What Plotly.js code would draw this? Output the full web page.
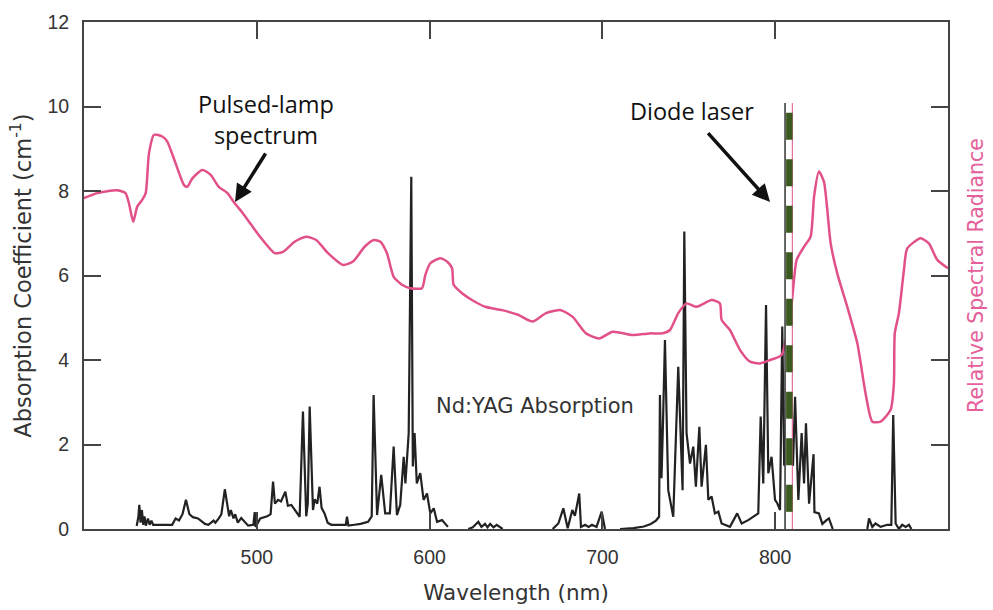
<!DOCTYPE html>
<html>
<head>
<meta charset="utf-8">
<script src="https://cdn.plot.ly/plotly-3.0.1.min.js"></script>
<style>html,body{margin:0;padding:0;background:#fff;}#chart{width:993px;height:610px;}</style>
</head>
<body>
<div id="chart"></div>
<script>
// Pulsed-lamp spectrum (relative spectral radiance, plotted on the 0-12 scale)
const lampWavelength = [400,407.7,419,424,426,428.5,430.8,433.7,435.7,437.6,440.5,445.3,448.2,452,457.9,459.8,462.7,468.5,473.3,478,483,487.2,492,496.8,502.6,510.3,515.2,521.9,528.6,534.4,541.2,549.9,555.7,562.4,567.8,571.5,575.3,579.2,584,588.8,595.6,597.5,600.4,606.2,610.1,613,613.9,618.8,624.5,632.2,641.9,651.2,659.6,667.4,676,682.8,690.5,698.2,705.9,717.5,727.1,734.5,739.1,743.9,748.7,754.5,763.2,768,769,773.8,779.6,785.4,791.2,797,803.7,809.5,812.4,816.7,820.5,822.5,825.3,828.2,832.1,835.9,841.7,847.5,852.3,856.2,861,866.8,868.7,869.2,871.6,874.5,876.4,884.1,888.9,893.8,900];
const lampRadiance = [7.83,7.95,8.02,7.95,7.71,7.27,7.63,7.79,7.95,8.89,9.33,9.29,9.17,8.77,8.14,8.10,8.30,8.50,8.38,8.10,7.95,7.71,7.47,7.20,6.88,6.53,6.56,6.80,6.92,6.84,6.53,6.25,6.33,6.68,6.84,6.80,6.53,5.97,5.78,5.70,5.70,6.01,6.29,6.41,6.33,6.17,5.78,5.58,5.42,5.26,5.18,5.07,4.91,5.11,5.18,5.02,4.63,4.51,4.67,4.59,4.63,4.63,4.71,5.11,5.34,5.26,5.42,5.34,4.95,4.71,4.24,3.96,3.92,4.00,4.12,5.34,6.37,6.68,6.92,7.87,8.46,8.22,6.76,6.05,5.26,4.40,3.21,2.54,2.54,2.82,3.45,4.63,5.11,6.13,6.64,6.88,6.76,6.37,6.17];

// Nd:YAG absorption coefficient (cm^-1); null marks a gap in the curve
const absWavelength = [430.5,431.5,432,432.7,433.5,434.3,435,435.8,437,438,439,440,451,453,455,457,459,461,463,466,470,472,475,476,478,479.5,481.5,483,484,485,486.5,487.5,489,491,495,498,498.8,499.3,500,502,506,508,509.4,510.5,512.3,514,516.5,518,520,522,524.8,526.7,528.6,529.5,530.6,532.5,533.5,535,536.3,537.5,539.2,541,543.1,548,551.5,552.2,553,556.6,560,564.4,566.5,567.6,569.6,572,574.3,577,579.2,581.1,583,585,586,587.9,589.4,590.3,591.3,592.6,594.6,596.5,598.5,600.4,602.4,604.3,607.2,610.6,
 null,
 622.4,625,628.2,630,632.1,633.5,635,637,638.8,642.3,
 null,
 671.2,674.5,677.4,679.9,682.6,684.1,686.6,687.6,690,692,694,696.6,699.6,701.5,
 null,
 710.2,718,724,728,731,732.8,733.3,734.2,735,736.2,738.1,741,743.9,745.3,746.4,747.4,748.7,750.7,752.6,754.1,756.1,757.4,759.9,761.3,763.2,765.1,767.1,769,773.8,778,780.6,784.4,787.3,790.2,791.6,793.1,794.7,796,797.9,799.9,801.2,802.8,804.1,805.2,807,810.3,811.5,813.4,815.3,816.7,817.8,819.6,822.2,822.7,825.3,827.3,829.7,831.1,833.3,
 null,
 853.3,854.3,856.2,858.1,861,864.9,867.2,868.3,869.7,871.6,873.5,875.5,877.4,878.8];
const absCoefficient = [0.07,0.3,0.57,0.15,0.45,0.1,0.3,0.08,0.25,0.1,0.2,0.1,0.1,0.25,0.2,0.35,0.69,0.35,0.28,0.25,0.12,0.1,0.2,0.15,0.25,0.35,0.94,0.5,0.3,0.45,0.25,0.35,0.15,0.26,0.08,0.1,0.4,0.05,0.1,0.25,0.3,0.35,1.12,0.6,0.69,0.65,0.88,0.55,0.57,0.45,0.29,2.78,0.3,0.6,2.9,0.45,0.7,0.6,1.0,0.5,0.37,0.15,0.1,0.1,0.1,0.29,0.08,0.1,0.12,0.17,0.3,3.17,0.33,1.28,0.37,0.37,1.95,0.33,0.57,1.71,1.08,2.27,8.34,1.48,2.27,1.08,1.32,0.69,0.84,0.37,0.49,0.17,0.21,0.05,
 null,
 0,0.04,0.17,0.05,0.12,0.04,0.12,0.04,0.1,0,
 null,
 0,0.13,0.49,0.02,0.45,0.31,0.84,0.05,0.1,0.05,0.1,0.05,0.41,0,
 null,
 0,0.02,0.06,0.12,0.2,0.29,3.17,1.2,2.4,4.47,0.92,0.29,3.84,2.27,0.92,7.04,2.27,1.55,1.95,1.0,2.42,1.0,1.99,0.69,0.77,0.37,0.41,0.13,0.05,0.37,0.13,0.21,0.29,0.37,2.66,1.08,5.30,1.32,1.71,0.69,0.61,0.45,4.79,1.5,2.0,1.5,3.13,0.69,2.27,1.08,2.5,0.6,1.77,0.4,0.37,0.12,0.21,0.25,0,
 null,
 0,0.25,0.05,0.13,0.05,0.1,0.1,2.7,0.13,0,0.1,0.05,0.1,0];

// Diode laser line (nm) and the column it occupies
const diodeLaser = [808.2];
const diodeColumn = [805.7, 809.9];
const diodeTop = [10.08, 9.85];

const xTicks = [500, 600, 700, 800];
const yTicks = [0, 2, 4, 6, 8, 10, 12];

const pink = '#e2508a';
const pinkTitle = '#e5609a';
const axisColor = '#444';

const traces = [
  {x: lampWavelength, y: lampRadiance, type: 'scatter', mode: 'lines', yaxis: 'y2',
   line: {color: pink, width: 2.5, shape: 'spline', smoothing: 0.6}, hoverinfo: 'skip'},
  {x: absWavelength, y: absCoefficient, type: 'scatter', mode: 'lines', connectgaps: false,
   line: {color: '#222', width: 2.2}, hoverinfo: 'skip'}
];

const fontTick = 'Liberation Sans, Arial, sans-serif';
const fontAx = 'DejaVu Sans, Verdana, sans-serif';
const fontNote = 'Open Sans, Noto Sans, sans-serif';

const layout = {
  width: 993, height: 610,
  margin: {l: 84, r: 45, t: 22, b: 81},
  paper_bgcolor: '#fff', plot_bgcolor: '#fff',
  showlegend: false,
  xaxis: {
    range: [400, 900], tickvals: xTicks, ticktext: xTicks.map(String),
    ticks: 'inside', ticklen: 17, tickwidth: 2, tickcolor: axisColor,
    showline: true, linecolor: axisColor, linewidth: 2, mirror: 'ticks',
    showgrid: false, zeroline: false,
    tickfont: {family: fontTick, size: 19.5, color: '#333'},
    ticklabelstandoff: 10,
    title: {text: 'Wavelength (nm)', font: {family: fontAx, size: 21.5, color: '#333'}, standoff: 18}
  },
  yaxis: {
    range: [0, 12], tickvals: yTicks,
    ticks: 'inside', ticklen: 17, tickwidth: 2, tickcolor: axisColor,
    showline: true, linecolor: axisColor, linewidth: 2, mirror: 'ticks',
    showgrid: false, zeroline: false,
    tickfont: {family: fontTick, size: 19.5, color: '#333'},
    ticklabelstandoff: 9,
    title: {text: 'Absorption Coefficient (cm<sup>-1</sup>)', font: {family: fontAx, size: 22.5, color: '#333'}, standoff: 10}
  },
  yaxis2: {
    range: [0, 12], overlaying: 'y', side: 'right',
    showticklabels: false, ticks: '', showline: false, showgrid: false, zeroline: false,
    title: {text: 'Relative Spectral Radiance', font: {family: fontAx, size: 20.5, color: pinkTitle}, standoff: 20}
  },
  shapes: [
    {type: 'rect', xref: 'x', yref: 'y', x0: diodeColumn[0], x1: diodeColumn[1], y0: 0, y1: diodeTop[0],
     fillcolor: '#fff', line: {width: 0}, layer: 'above'},
    {type: 'line', xref: 'x', yref: 'y', x0: diodeColumn[0], x1: diodeColumn[0], y0: 0, y1: diodeTop[0],
     line: {color: '#333', width: 1.5}, layer: 'above'},
    {type: 'line', xref: 'x', yref: 'y', x0: diodeColumn[1], x1: diodeColumn[1], y0: 0, y1: diodeTop[0],
     line: {color: pink, width: 1}, layer: 'above'},
    {type: 'line', xref: 'x', yref: 'y', x0: diodeLaser[0], x1: diodeLaser[0], y0: diodeTop[1], y1: 0,
     line: {color: '#3b5a1f', width: 6.5, dash: '27px,19.5px'}, layer: 'above'}
  ],
  annotations: [
    {x: 505.3, y: 9.69, xref: 'x', yref: 'y', text: 'Pulsed-lamp<br>spectrum', showarrow: false,
     font: {family: fontNote, size: 23.5, color: '#111'}, align: 'center', xanchor: 'center', yanchor: 'middle'},
    {x: 487.4, y: 7.74, xref: 'x', yref: 'y', text: '', showarrow: true, ax: 31.5, ay: -50,
     arrowhead: 2, arrowsize: 1, arrowwidth: 3.5, arrowcolor: '#111', standoff: 0},
    {x: 752.1, y: 9.89, xref: 'x', yref: 'y', text: 'Diode laser', showarrow: false,
     font: {family: fontNote, size: 23.5, color: '#111'}, xanchor: 'center', yanchor: 'middle'},
    {x: 797, y: 7.74, xref: 'x', yref: 'y', text: '', showarrow: true, ax: -63.3, ay: -70.3,
     arrowhead: 2, arrowsize: 1, arrowwidth: 3.5, arrowcolor: '#111', standoff: 0},
    {x: 661, y: 2.91, xref: 'x', yref: 'y', text: 'Nd:YAG Absorption', showarrow: false,
     font: {family: fontAx, size: 21, color: '#333'}, xanchor: 'center', yanchor: 'middle'}
  ]
};

Plotly.newPlot('chart', traces, layout, {staticPlot: true, displayModeBar: false});
</script>
</body>
</html>
